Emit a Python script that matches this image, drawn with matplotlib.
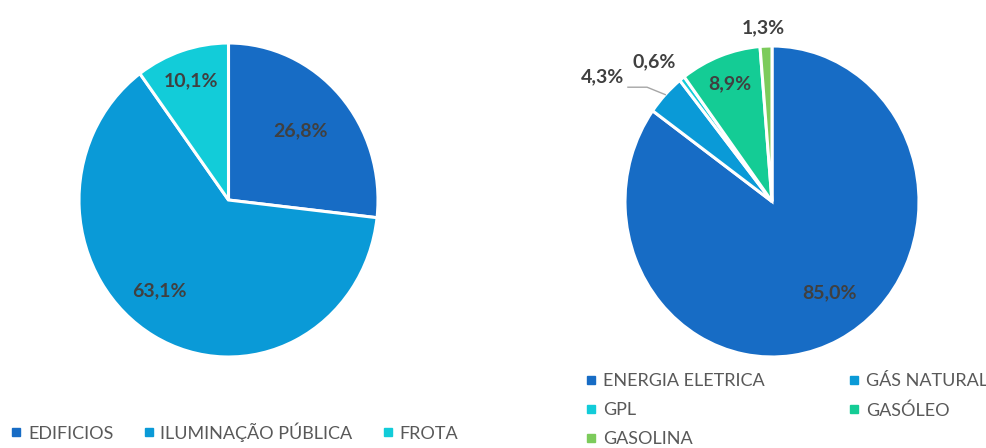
import numpy as np
import matplotlib
matplotlib.use("Agg")
import matplotlib.pyplot as plt
from matplotlib.lines import Line2D

plt.rcParams['font.family'] = ['Lato', 'DejaVu Sans']

# left chart
cat_left = ['EDIFICIOS', 'ILUMINAÇÃO PÚBLICA', 'FROTA']
val_left = [26.8, 63.1, 10.1]
col_left = ['#176CC5', '#0A9AD7', '#12CCD9']

# right chart
cat_right = ['ENERGIA ELETRICA', 'GÁS NATURAL', 'GPL', 'GASÓLEO', 'GASOLINA']
val_right = [85.0, 4.3, 0.6, 8.9, 1.3]
col_right = ['#176CC5', '#0A9AD7', '#12CCD9', '#14CC95', '#7CCB5B']

W, H = 987, 448
fig = plt.figure(figsize=(W / 100, H / 100), dpi=100)

def px_axes(x0, y0, x1, y1):
    return fig.add_axes([x0 / W, 1 - y1 / H, (x1 - x0) / W, (y1 - y0) / H])

def fmt(v):
    return f'{v:.1f}%'.replace('.', ',')

def mid_angles(vals):
    tot = sum(vals)
    cum = np.cumsum([0] + list(vals))
    return [np.deg2rad(90 - (cum[i] + vals[i] / 2) / tot * 360) for i in range(len(vals))]

def draw_pie(ax, vals, cols):
    ax.pie(vals, colors=cols, startangle=90, counterclock=False,
           wedgeprops=dict(edgecolor='white', linewidth=2.2))
    ax.set_aspect('auto')
    ax.set_xlim(-1, 1)
    ax.set_ylim(-1, 1)

lab_style = dict(ha='center', va='center', fontsize=14, fontweight='bold', color='#404040')

# left pie (label spots in axis units, like excel's placement)
axl = px_axes(79, 43, 378, 357)
draw_pie(axl, val_left, col_left)
pos_left = [(0.48, 0.44), (-0.46, -0.58), (-0.25, 0.76)]
for v, (x, y) in zip(val_left, pos_left):
    axl.text(x, y, fmt(v), **lab_style)

# right pie
axr = px_axes(625, 46, 919, 357)
draw_pie(axr, val_right, col_right)
pos_right = [(0.39, -0.59), (-1.15, 0.8), (-0.80, 0.90), (-0.29, 0.76), (-0.06, 1.12)]
for v, (x, y) in zip(val_right, pos_right):
    axr.text(x, y, fmt(v), **lab_style)

# leader line for GÁS NATURAL
a = mid_angles(val_right)[1]
lx, ly = pos_right[1]
axr.plot([lx + 0.17, lx + 0.30, np.cos(a)], [ly - 0.065, ly - 0.065, np.sin(a)],
         color='#a6a6a6', lw=1, clip_on=False)

# legends
def handles(cats, cols):
    return [Line2D([], [], marker='s', ls='none', markersize=6, color=c, label=t)
            for t, c in zip(cats, cols)]

leg_style = dict(frameon=False, fontsize=13, handletextpad=0.3, handlelength=0.7,
                 labelcolor='#595959', borderaxespad=0, borderpad=0)

fig.legend(handles=handles(cat_left, col_left), ncol=3, loc='center left',
           bbox_to_anchor=(10 / W, 1 - 432 / H), columnspacing=1.6, **leg_style)

hr = handles(cat_right, col_right)
order = [0, 2, 4, 1, 3]
fig.legend(handles=[hr[i] for i in order], ncol=2, loc='upper left',
           bbox_to_anchor=(585 / W, 1 - 373 / H), columnspacing=4.6,
           labelspacing=0.72, **leg_style)

fig.savefig('out.png', dpi=100)
